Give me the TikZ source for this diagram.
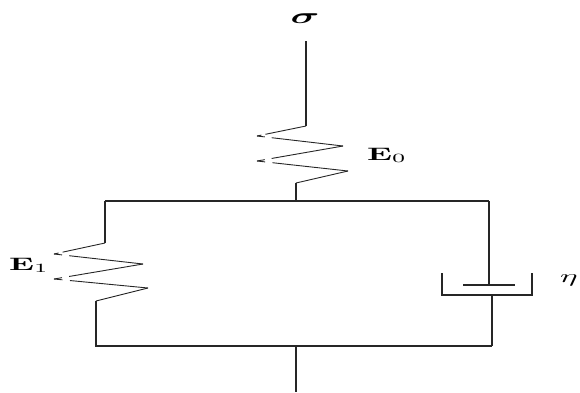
\documentclass[tikz,border=0pt]{standalone}
\usepackage{amsmath,bm}
\usetikzlibrary{calc}
\newcommand{\gapseg}[2]{% from #1 to tip #2
  \draw[springline] (#1) -- ($(#2)!0.17!(#1)$);
  \draw[springline] ($(#2)!0.09!(#1)$) -- (#2);}
\newcommand{\biglab}[1]{\scalebox{3.3}[1.8]{#1}}
\begin{document}
\begin{tikzpicture}[x=1pt,y=-1pt,
  wire/.style={line width=1.6pt,black!85},
  springline/.style={line width=0.9pt,black!85},
  lab/.style={inner sep=0pt}]
\useasboundingbox (0,0) rectangle (580,392);
% coordinates
\coordinate (top) at (306,41);
\coordinate (a0) at (306,126);
\coordinate (l01) at (257,136);
\coordinate (r01) at (343,146);
\coordinate (l02) at (257,161);
\coordinate (r02) at (348,171);
\coordinate (b0) at (296,183);
\coordinate (j0) at (296,201);
\coordinate (tl) at (105,201);
\coordinate (tr) at (489,201);
\coordinate (a1) at (105,243);
\coordinate (l11) at (54,254);
\coordinate (r11) at (143,264);
\coordinate (l12) at (54,279);
\coordinate (r12) at (148,288);
\coordinate (b1) at (96,301);
\coordinate (bl) at (96,346);
\coordinate (br) at (492,346);
\coordinate (pist) at (489,285);
\coordinate (pl) at (463,285);
\coordinate (pr) at (515,285);
\coordinate (cwl) at (442,273);
\coordinate (cbl) at (442,295);
\coordinate (cbr) at (532,295);
\coordinate (cwr) at (532,273);
\coordinate (rod) at (492,295);
\coordinate (j1) at (296,346);
\coordinate (bot) at (296,392);
% labels
\node[lab,anchor=base] (sig) at (305,23) {\scalebox{4}[2.2]{$\bm{\sigma}$}};
\node[lab,anchor=base west] (e0) at (367,160) {\biglab{$\mathbf{E}_0$}};
\node[lab,anchor=base west] (e1) at (9,270) {\biglab{$\mathbf{E}_1$}};
\node[lab,anchor=base west] (eta) at (560,282) {\biglab{$\eta$}};
% top stub and E0 spring
\draw[wire] (top) -- (a0);
\gapseg{a0}{l01}\gapseg{r01}{l01}
\gapseg{r01}{l02}\gapseg{r02}{l02}
\draw[springline] (r02) -- (b0);
\draw[wire] (b0) -- (j0);
% frame
\draw[wire] (tl) -- (tr);
\draw[wire] (tl) -- (a1);
\gapseg{a1}{l11}\gapseg{r11}{l11}
\gapseg{r11}{l12}\gapseg{r12}{l12}
\draw[springline] (r12) -- (b1);
\draw[wire] (b1) -- (bl) -- (br);
% dashpot
\draw[wire] (tr) -- (pist);
\draw[springline,line width=1.2pt] (pl) -- (pr);
\draw[wire] (cwl) -- (cbl) -- (cbr) -- (cwr);
\draw[wire] (rod) -- (br);
% bottom stub
\draw[wire] (j1) -- (bot);
\end{tikzpicture}
\end{document}
